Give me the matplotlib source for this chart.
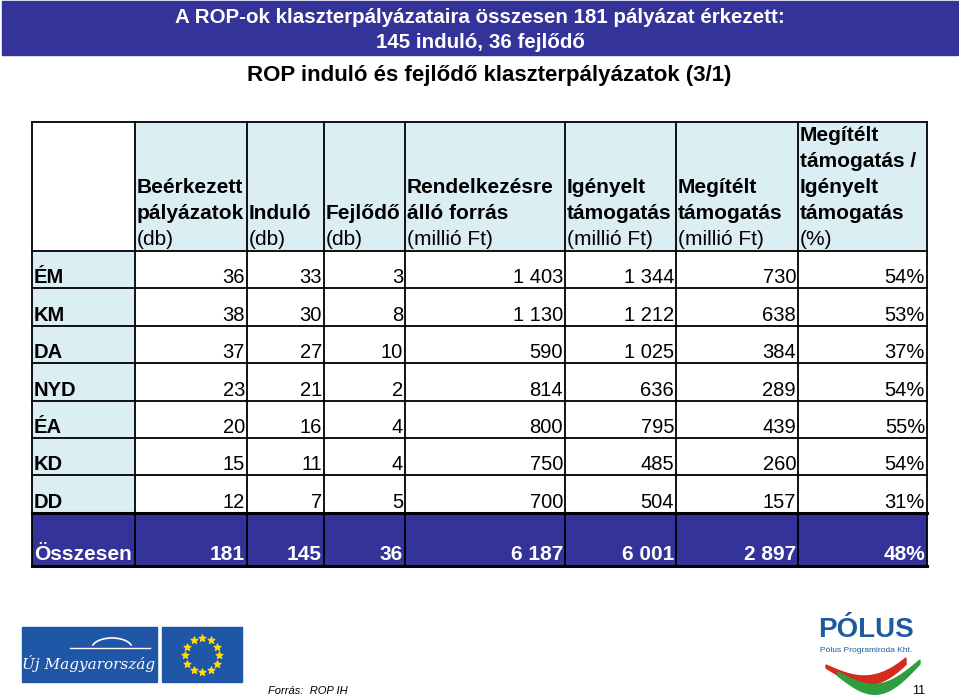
import matplotlib.pyplot as plt
import numpy as np
from matplotlib.patches import Rectangle, Polygon

plt.rcParams['font.family'] = ['Liberation Sans', 'DejaVu Sans']

# ---- data ----
regions = ['ÉM', 'KM', 'DA', 'NYD', 'ÉA', 'KD', 'DD']
beerkezett = [36, 38, 37, 23, 20, 15, 12]
indulo = [33, 30, 27, 21, 16, 11, 7]
fejlodo = [3, 8, 10, 2, 4, 4, 5]
rendelkezesre = [1403, 1130, 590, 814, 800, 750, 700]
igenyelt = [1344, 1212, 1025, 636, 795, 485, 504]
megitelt = [730, 638, 384, 289, 439, 260, 157]
arany = [54, 53, 37, 54, 55, 54, 31]

total_label = 'Összesen'
totals = [181, 145, 36, 6187, 6001, 2897, 48]

header_bold = [
    ['Beérkezett', 'pályázatok'],
    ['Induló'],
    ['Fejlődő'],
    ['Rendelkezésre', 'álló forrás'],
    ['Igényelt', 'támogatás'],
    ['Megítélt', 'támogatás'],
    ['Megítélt', 'támogatás /', 'Igényelt', 'támogatás'],
]
header_unit = ['(db)', '(db)', '(db)', '(millió Ft)', '(millió Ft)',
               '(millió Ft)', '(%)']

title = 'A ROP-ok klaszterpályázataira összesen 181 pályázat érkezett:\n145 induló, 36 fejlődő'
subtitle = 'ROP induló és fejlődő klaszterpályázatok (3/1)'

# ---- layout (pixel coordinates) ----
col_edges = [32, 135, 247, 324, 405, 565, 676, 798, 927]
table_top = 122
header_bottom = 251
row_h = 37.4
total_h = 53

DARK = '#333399'
LIGHT = '#dbeef3'


def fmt(v, pct=False):
    if pct:
        return f'{v}%'
    return f'{v:,}'.replace(',', ' ')


fig = plt.figure(figsize=(9.59, 6.99), dpi=100)
ax = fig.add_axes([0, 0, 1, 1])
ax.set_xlim(0, 959)
ax.set_ylim(699, 0)
ax.axis('off')

# title band
ax.add_patch(Rectangle((2, 1), 956, 54, color=DARK, zorder=1))
ax.text(480, 30, title, color='white', fontsize=14.8, fontweight='bold',
        ha='center', va='center', linespacing=1.35)
ax.text(489, 76, subtitle, color='black', fontsize=16, fontweight='bold',
        ha='center', va='center')

# header row
for i in range(1, len(col_edges) - 1):
    x0, x1 = col_edges[i], col_edges[i + 1]
    ax.add_patch(Rectangle((x0, table_top), x1 - x0, header_bottom - table_top,
                           facecolor=LIGHT, edgecolor='none'))
    lines = header_bold[i - 1]
    y = header_bottom - 6
    ax.text(x0 + 2, y, header_unit[i - 1], fontsize=15, ha='left', va='baseline')
    for k, line in enumerate(reversed(lines)):
        ax.text(x0 + 2, y - 26 * (k + 1), line, fontsize=15, fontweight='bold',
                ha='left', va='baseline')

# data rows
columns = [beerkezett, indulo, fejlodo, rendelkezesre, igenyelt, megitelt, arany]
for r, reg in enumerate(regions):
    y0 = header_bottom + r * row_h
    y1 = y0 + row_h
    ax.add_patch(Rectangle((col_edges[0], y0), col_edges[1] - col_edges[0], row_h,
                           facecolor=LIGHT, edgecolor='none'))
    ax.text(col_edges[0] + 2, y1 - 5, reg, fontsize=14.5, fontweight='bold',
            ha='left', va='baseline')
    for c, vals in enumerate(columns):
        ax.text(col_edges[c + 2] - 2, y1 - 5, fmt(vals[r], pct=(c == 6)),
                fontsize=14.5, ha='right', va='baseline')

# total row
ty0 = header_bottom + len(regions) * row_h
ty1 = ty0 + total_h
ax.add_patch(Rectangle((col_edges[0], ty0), col_edges[-1] - col_edges[0], total_h,
                       facecolor=DARK, edgecolor='none'))
ax.text(col_edges[0] + 2, ty1 - 6, total_label, fontsize=15, fontweight='bold',
        color='white', ha='left', va='baseline')
for c, v in enumerate(totals):
    ax.text(col_edges[c + 2] - 2, ty1 - 6, fmt(v, pct=(c == 6)), fontsize=15,
            fontweight='bold', color='white', ha='right', va='baseline')

# grid lines
lw = 1.3
for x in col_edges:
    ax.plot([x, x], [table_top, ty1], color='black', lw=lw)
hlines = [table_top, header_bottom] + [header_bottom + k * row_h for k in range(1, len(regions) + 1)] + [ty1]
for y in hlines:
    ax.plot([col_edges[0], col_edges[-1]], [y, y], color='black', lw=lw)
ax.plot([col_edges[0], col_edges[-1]], [ty0, ty0], color='black', lw=2.2)
ax.plot([col_edges[0], col_edges[-1]], [ty1, ty1], color='black', lw=2.2)

# logos (decorative)
ax.add_patch(Rectangle((22, 627), 135, 55, color='#1f56a6'))
ax.text(89, 664, 'Új Magyarország', color='white', fontsize=11, style='italic',
        ha='center', va='center', family='DejaVu Serif')
t = np.linspace(np.pi * 0.1, np.pi * 0.9, 30)
ax.plot(112 + 20 * np.cos(t), 648 - 10 * np.sin(t), color='white', lw=1.2)
ax.plot([70, 150], [648, 648], color='white', lw=1)
ax.add_patch(Rectangle((162, 627), 80, 55, color='#1f56a6'))
ang = np.linspace(0, 2 * np.pi, 13)[:-1]
ax.scatter(202 + 17 * np.cos(ang), 655 + 17 * np.sin(ang), marker='*', s=25,
           color='#ffdd00', zorder=3)

ax.text(268, 694, 'Forrás:  ROP IH', fontsize=8, style='italic', ha='left',
        va='baseline')

ax.text(866, 630, 'PÓLUS', fontsize=20, fontweight='bold', color='#1e5aa0',
        ha='center', va='center')
ax.text(866, 650, 'Pólus Programiroda Kht.', fontsize=6, color='#1e5aa0',
        ha='center', va='center')
s = np.linspace(0, 1, 40)
ax.add_patch(Polygon(np.column_stack([
    np.concatenate([826 + 80 * s, (826 + 80 * s)[::-1]]),
    np.concatenate([665 + 22 * np.sin(np.pi * s * 0.8) - 20 * s,
                    (668 + 28 * np.sin(np.pi * s * 0.8) - 20 * s)[::-1]])]),
    color='#d52b1e'))
ax.add_patch(Polygon(np.column_stack([
    np.concatenate([838 + 82 * s, (838 + 82 * s)[::-1]]),
    np.concatenate([672 + 18 * np.sin(np.pi * s) - 12 * s,
                    (676 + 24 * np.sin(np.pi * s) - 12 * s)[::-1]])]),
    color='#2e9e3e'))
ax.text(925, 694, '11', fontsize=9, ha='right', va='baseline')

fig.savefig('out.png', dpi=100)
